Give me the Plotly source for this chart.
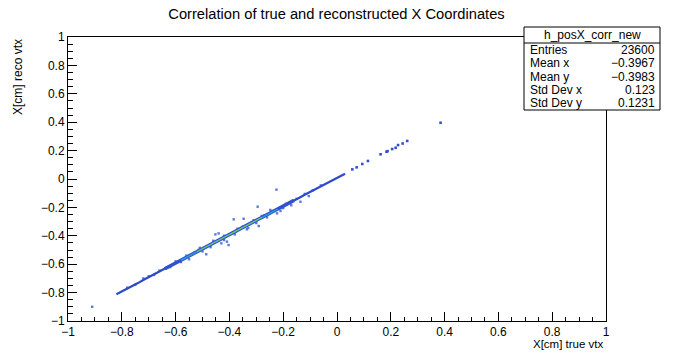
import plotly.graph_objects as go

# ---------------- data ----------------
core_x = [-0.82, -0.80, -0.78, -0.76, -0.74, -0.72, -0.70, -0.68, -0.66, -0.64,
          -0.62, -0.60, -0.58, -0.56, -0.54, -0.52, -0.50, -0.48, -0.46, -0.44,
          -0.42, -0.40, -0.38, -0.36, -0.34, -0.32, -0.30, -0.28, -0.26, -0.24,
          -0.22, -0.20, -0.18, -0.16, -0.14, -0.12, -0.10, -0.08, -0.06, -0.04,
          -0.02, 0.00, 0.02, 0.03]
core_y = [-0.812, -0.793, -0.772, -0.752, -0.733, -0.711, -0.692, -0.671, -0.652, -0.632,
          -0.611, -0.591, -0.572, -0.551, -0.532, -0.511, -0.492, -0.471, -0.452, -0.431,
          -0.412, -0.391, -0.372, -0.351, -0.332, -0.311, -0.292, -0.271, -0.252, -0.231,
          -0.212, -0.191, -0.172, -0.151, -0.132, -0.111, -0.092, -0.071, -0.052, -0.031,
          -0.012, 0.008, 0.027, 0.037]

dense_x = [-0.64, -0.60, -0.56, -0.52, -0.48, -0.44, -0.40, -0.36, -0.32, -0.28, -0.24, -0.20, -0.16]
dense_y = [-0.632, -0.591, -0.551, -0.511, -0.471, -0.431, -0.391, -0.351, -0.311, -0.271, -0.231, -0.191, -0.151]

peak_x = [-0.58, -0.54, -0.50, -0.46, -0.42, -0.38, -0.34, -0.30, -0.26, -0.22]
peak_y = [-0.572, -0.532, -0.492, -0.452, -0.412, -0.372, -0.332, -0.292, -0.252, -0.212]

top_x = [-0.52, -0.48, -0.44, -0.40, -0.36, -0.32, -0.28]
top_y = [-0.511, -0.471, -0.431, -0.391, -0.351, -0.311, -0.271]

tail_x = [0.057, 0.073, 0.094, 0.115, 0.162, 0.184, 0.188, 0.205, 0.218, 0.227, 0.244, 0.261, 0.385]
tail_y = [0.068, 0.082, 0.106, 0.127, 0.174, 0.192, 0.196, 0.211, 0.220, 0.239, 0.250, 0.268, 0.396]

halo_x = [-0.91, -0.78, -0.75, -0.72, -0.70, -0.68, -0.66, -0.632, -0.62, -0.60, -0.58, -0.56, -0.55, -0.53,
          -0.515, -0.51, -0.50, -0.486, -0.47, -0.46, -0.452, -0.44, -0.43, -0.42, -0.42,
          -0.409, -0.403, -0.384, -0.38, -0.37, -0.35, -0.347, -0.335, -0.33, -0.31, -0.30,
          -0.295, -0.291, -0.28, -0.27, -0.26, -0.248, -0.24, -0.225, -0.223, -0.21, -0.20,
          -0.19, -0.17, -0.15, -0.136, -0.12, -0.105, -0.09, -0.06]
halo_y = [-0.90, -0.765, -0.745, -0.70, -0.685, -0.675, -0.645, -0.622, -0.62, -0.58, -0.585, -0.54, -0.565, -0.52,
          -0.50, -0.485, -0.51, -0.53, -0.48, -0.435, -0.39, -0.383, -0.453, -0.40, -0.43,
          -0.441, -0.465, -0.284, -0.39, -0.35, -0.335, -0.28, -0.354, -0.345, -0.29, -0.31,
          -0.195, -0.331, -0.26, -0.255, -0.27, -0.218, -0.225, -0.075, -0.242, -0.225, -0.205,
          -0.175, -0.185, -0.14, -0.16, -0.105, -0.12, -0.08, -0.045]

stat_names = ["Entries", "Mean x", "Mean y", "Std Dev x", "Std Dev y"]
stat_values = ["23600", "\u22120.3967", "\u22120.3983", "0.123", "0.1231"]
hist_name = "h_posX_corr_new"
title_text = "Correlation of true and reconstructed X Coordinates"

# ---------------- figure ----------------
W, H = 673, 355
L, R, T, B = 68, 606, 37, 321

fig = go.Figure()
fig.add_trace(go.Scatter(x=halo_x, y=halo_y, mode="markers",
                         marker=dict(symbol="square", size=2.4, color="#5a78dc", line=dict(width=0)),
                         hoverinfo="skip"))
fig.add_trace(go.Scatter(x=core_x, y=core_y, mode="lines",
                         line=dict(color="#2d4bc9", width=2.2), hoverinfo="skip"))
fig.add_trace(go.Scatter(x=dense_x, y=dense_y, mode="lines",
                         line=dict(color="#3152cc", width=3.6), hoverinfo="skip"))
fig.add_trace(go.Scatter(x=peak_x, y=peak_y, mode="lines",
                         line=dict(color="#2a9ad6", width=1.6), hoverinfo="skip"))
fig.add_trace(go.Scatter(x=top_x, y=top_y, mode="lines",
                         line=dict(color="#98c64a", width=0.9), hoverinfo="skip"))
fig.add_trace(go.Scatter(x=tail_x, y=tail_y, mode="markers",
                         marker=dict(symbol="square", size=2.6, color="#3550cc", line=dict(width=0)),
                         hoverinfo="skip"))

axis_common = dict(range=[-1, 1], dtick=0.2, tick0=-1, ticks="inside", ticklen=9, tickwidth=1,
                   tickcolor="black", showgrid=False, zeroline=False, showline=True,
                   linecolor="black", linewidth=1, mirror=True,
                   tickfont=dict(family="Liberation Sans", size=12, color="black"),
                   minor=dict(dtick=0.05, ticklen=4.5, tickcolor="black", ticks="inside", showgrid=False))

fig.update_layout(
    width=W, height=H,
    margin=dict(l=L, r=W - R, t=T, b=H - B),
    paper_bgcolor="white", plot_bgcolor="white",
    showlegend=False,
    font=dict(family="Liberation Sans", color="black"),
    title=dict(text=title_text, x=336.5 / W, xanchor="center", xref="container",
               y=1 - 14 / H, yanchor="middle", yref="container",
               font=dict(size=14.7, family="Liberation Sans", color="black")),
    xaxis=dict(**axis_common),
    yaxis=dict(**axis_common),
)

def px(x):
    return (x - L) / (R - L)

def py(y):
    return (B - y) / (B - T)

annotations = [
    dict(text="X[cm] true vtx", x=1, y=py(344), xref="paper", yref="paper", showarrow=False,
         xanchor="right", yanchor="middle", font=dict(size=11.5)),
    dict(text="X[cm] reco vtx", x=px(18), y=1, xref="paper", yref="paper", showarrow=False,
         xanchor="center", yanchor="top", textangle=-90, font=dict(size=12)),
]

# stats box
bx0, bx1, by0, by1, bsep = 524, 660, 27, 110, 43
shapes = [
    dict(type="rect", xref="paper", yref="paper", x0=px(bx0), x1=px(bx1), y0=py(by1), y1=py(by0),
         line=dict(color="black", width=1), fillcolor="white", layer="above"),
    dict(type="line", xref="paper", yref="paper", x0=px(bx0), x1=px(bx1), y0=py(bsep), y1=py(bsep),
         line=dict(color="black", width=1), layer="above"),
]
annotations.append(dict(text=hist_name, x=px((bx0 + bx1) / 2), y=py((by0 + bsep) / 2),
                        xref="paper", yref="paper", showarrow=False, xanchor="center",
                        yanchor="middle", font=dict(size=12)))
row_h = (by1 - bsep) / len(stat_names)
for i, (n, v) in enumerate(zip(stat_names, stat_values)):
    yy = bsep + row_h * (i + 0.5)
    annotations.append(dict(text=n, x=px(bx0 + 4), y=py(yy), xref="paper", yref="paper",
                            showarrow=False, xanchor="left", yanchor="middle", font=dict(size=12)))
    annotations.append(dict(text=v, x=px(bx1 - 3), y=py(yy), xref="paper", yref="paper",
                            showarrow=False, xanchor="right", yanchor="middle", font=dict(size=12)))

fig.update_layout(annotations=annotations, shapes=shapes)
fig.write_html("out.html", config={"displayModeBar": False},
               post_script="document.body.style.margin='0';document.body.style.overflow='hidden';")
